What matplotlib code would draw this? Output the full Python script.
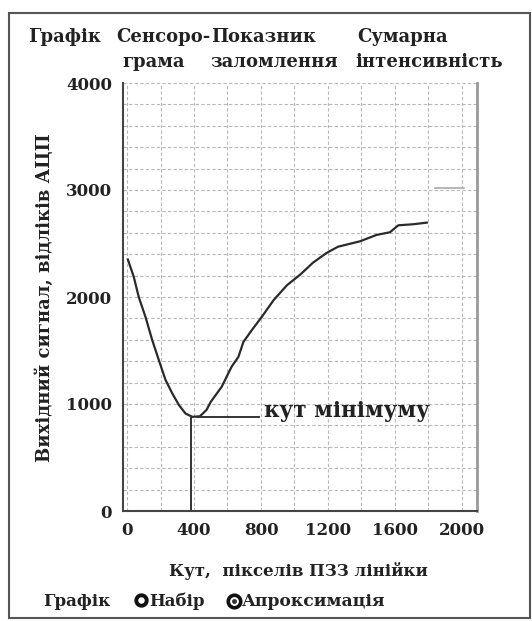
import matplotlib
matplotlib.use("Agg")
import matplotlib.pyplot as plt
from matplotlib.lines import Line2D
from matplotlib.patches import Rectangle
from matplotlib.ticker import MultipleLocator

# sensorogram
angle_px = [5, 40, 70, 110, 150, 190, 230, 270, 310, 350, 390, 435, 475, 500, 565,
            625, 665, 695, 745, 805, 875, 955, 1035, 1110, 1190, 1260, 1390, 1490,
            1570, 1620, 1710, 1790]
signal_adc = [2350, 2190, 2000, 1815, 1600, 1410, 1225, 1100, 990, 910, 880, 885,
              945, 1020, 1160, 1350, 1440, 1580, 1690, 1815, 1970, 2110, 2210, 2320,
              2410, 2470, 2520, 2580, 2605, 2670, 2680, 2695]

# summed-intensity trace (top right)
sum_x = [1840, 2010]
sum_y = [3020, 3020]

# minimum marker
min_angle = 380
min_signal = 875
min_label = "кут мінімуму"

x_ticks = [0, 400, 800, 1200, 1600, 2000]
y_ticks = [0, 1000, 2000, 3000, 4000]

header_top = [("Графік", 28), ("Сенсоро-", 116), ("Показник", 211), ("Сумарна", 357)]
header_bottom = [("грама", 122), ("заломлення", 210), ("інтенсивність", 355)]

W, H = 532, 621
SERIF = ["DejaVu Serif"]
INK = "#222222"


def fx(px):
    return px / W


def fy(py):
    return 1 - py / H


fig = plt.figure(figsize=(W / 100, H / 100), dpi=100)
fig.patch.set_facecolor("white")

fig.patches.append(Rectangle((fx(9), fy(618)), fx(530) - fx(9), fy(13) - fy(618),
                             transform=fig.transFigure, fill=False,
                             edgecolor="#555555", lw=1.5))

ax = fig.add_axes([fx(123), fy(511), fx(477) - fx(123), fy(83) - fy(511)])
ax.set_xlim(-24, 2090)
ax.set_ylim(0, 4000)

ax.set_xticks(x_ticks)
ax.set_yticks(y_ticks)
ax.xaxis.set_minor_locator(MultipleLocator(200))
ax.yaxis.set_minor_locator(MultipleLocator(200))
ax.grid(True, which="both", color="#b8b8b8", linestyle=(0, (3, 2)), lw=0.8)
ax.set_axisbelow(True)
ax.tick_params(which="both", length=0)
ax.tick_params(axis="x", pad=8)
ax.tick_params(axis="y", pad=8)
for lab in ax.get_xticklabels() + ax.get_yticklabels():
    lab.set_fontfamily(SERIF)
    lab.set_fontweight("bold")
    lab.set_fontsize(12)
    lab.set_color(INK)

ax.spines["left"].set_color("#444444")
ax.spines["left"].set_linewidth(1.5)
ax.spines["bottom"].set_color("#444444")
ax.spines["bottom"].set_linewidth(1.5)
ax.spines["right"].set_color("#999999")
ax.spines["right"].set_linewidth(2)
ax.spines["top"].set_visible(False)

ax.plot(angle_px, signal_adc, color="#2a2a2a", lw=1.6)
ax.plot(sum_x, sum_y, color="#aaaaaa", lw=1.2)

ax.plot([min_angle, min_angle], [0, min_signal], color="#333333", lw=1.4)
ax.plot([min_angle + 40, min_angle + 410], [min_signal, min_signal], color="#333333", lw=1.4)
ax.text(min_angle + 440, min_signal, min_label, fontfamily=SERIF,
        fontweight="bold", fontsize=15.5, color=INK, va="baseline", ha="left")

for txt, px in header_top:
    fig.text(fx(px), fy(42), txt, fontfamily=SERIF, fontweight="bold",
             fontsize=13, color=INK, va="baseline", ha="left")
for txt, px in header_bottom:
    fig.text(fx(px), fy(67), txt, fontfamily=SERIF, fontweight="bold",
             fontsize=13, color=INK, va="baseline", ha="left")

fig.text(fx(45), fy(298), "Вихідний сигнал, відліків АЦП", rotation=90,
         fontfamily=SERIF, fontweight="bold", fontsize=13, color=INK,
         va="center", ha="center")
fig.text(fx(298), fy(571), "Кут,  пікселів ПЗЗ лінійки", fontfamily=SERIF,
         fontweight="bold", fontsize=12, color=INK, va="center", ha="center")

# legend row
fig.text(fx(43), fy(601), "Графік", fontfamily=SERIF, fontweight="bold",
         fontsize=12, color=INK, va="center", ha="left")
fig.lines.append(Line2D([fx(141)], [fy(600)], transform=fig.transFigure,
                        marker="o", ms=7.5, mfc="white", mec="#111111", mew=2.8))
fig.text(fx(149), fy(601), "Набір", fontfamily=SERIF, fontweight="bold",
         fontsize=12, color=INK, va="center", ha="left")
fig.lines.append(Line2D([fx(234)], [fy(601)], transform=fig.transFigure,
                        marker="o", ms=9, mfc="white", mec="#111111", mew=2.6))
fig.lines.append(Line2D([fx(234)], [fy(601)], transform=fig.transFigure,
                        marker="o", ms=3, mfc="#333333", mec="#333333", mew=0.5))
fig.text(fx(242), fy(601), "Апроксимація", fontfamily=SERIF, fontweight="bold",
         fontsize=12.3, color=INK, va="center", ha="left")

fig.savefig("out.png", dpi=100, facecolor="white")
